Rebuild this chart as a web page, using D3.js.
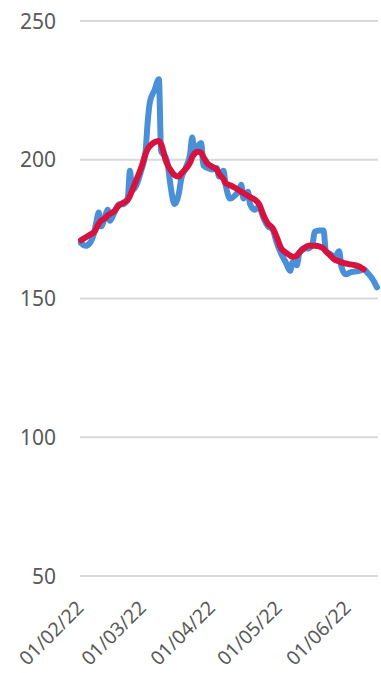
<!DOCTYPE html>
<html><head><meta charset="utf-8">
<script src="https://cdn.jsdelivr.net/npm/d3@7"></script>
<style>html,body{margin:0;padding:0;background:#fff;}svg{display:block;}</style>
</head><body>
<svg id="c" width="381" height="673"></svg>
<script>
const dates = ["2022-02-01","2022-02-03","2022-02-05","2022-02-07","2022-02-08","2022-02-09","2022-02-10","2022-02-12","2022-02-13","2022-02-14","2022-02-16","2022-02-18","2022-02-20","2022-02-22","2022-02-23","2022-02-24","2022-02-26","2022-02-28","2022-03-02","2022-03-03","2022-03-04","2022-03-06","2022-03-08","2022-03-09","2022-03-10","2022-03-11","2022-03-12","2022-03-13","2022-03-15","2022-03-17","2022-03-18","2022-03-20","2022-03-22","2022-03-23","2022-03-24","2022-03-25","2022-03-27","2022-03-28","2022-03-30","2022-04-01","2022-04-03","2022-04-04","2022-04-06","2022-04-07","2022-04-09","2022-04-11","2022-04-13","2022-04-14","2022-04-15","2022-04-17","2022-04-18","2022-04-20","2022-04-22","2022-04-24","2022-04-26","2022-04-28","2022-04-30","2022-05-02","2022-05-04","2022-05-06","2022-05-07","2022-05-09","2022-05-10","2022-05-12","2022-05-14","2022-05-16","2022-05-17","2022-05-19","2022-05-21","2022-05-22","2022-05-24","2022-05-26","2022-05-28","2022-05-29","2022-05-31","2022-06-02","2022-06-04","2022-06-06","2022-06-08","2022-06-10","2022-06-12","2022-06-14"];
const daily = [170,169,170,174,178,181,176,180,182,178,181,184,184,186,196,189,191,196,203,214,221,225,229,203,202,201,198,192,184,188,193,197,202,208,202,204,206,198,197,196.5,197,194,196,191,186,187,189,191,186,188.5,184,182,183,179,176,175,170,166,163,160,163,162,166,168,168,169.5,174,174.5,174.5,167,166,165,167,161.5,158.7,159.4,159.7,160,160.5,159,157,154];
const average = [171,172,173,174,175.5,177,178,179,180,180.5,181.5,183.5,184.5,185.5,187,189,193,197,202,204,205,206.3,206.7,205.6,203,200,198,196.6,194.5,194,195,196.6,199,201,202.3,202.8,202.5,201,198.5,197.5,196.5,195,193,191.5,190.8,190,189,188.5,188,187,186.5,185.7,184,180,177,175.5,172,168,166.5,165.5,165,165.5,166.5,168,169,169,169,168.8,168,167,165.5,164,163.4,163,162.6,162.3,162,161.5,160.5,null,null,null];
const yTicks = [50,100,150,200,250];
const xTickLabels = ["01/02/22","01/03/22","01/04/22","01/05/22","01/06/22"];

const parse = d3.timeParse("%Y-%m-%d");
const tickParse = d3.timeParse("%d/%m/%y");
const data = dates.map((d,i)=>({date:parse(d), v:daily[i], a:average[i]}));

const svg = d3.select("#c");
const x = d3.scaleTime().domain([parse("2022-02-01"), parse("2022-06-14")]).range([81, 377]);
const y = d3.scaleLinear().domain([50,250]).range([576,21]);

const font = "'Noto Sans', sans-serif";
svg.append("g").selectAll("line").data(yTicks).join("line")
  .attr("x1",80).attr("x2",378).attr("y1",d=>y(d)).attr("y2",d=>y(d))
  .attr("stroke","#d9d9d9").attr("stroke-width",2);
svg.append("g").selectAll("text").data(yTicks).join("text")
  .attr("x",56).attr("y",d=>y(d)).attr("dy","0.36em")
  .attr("text-anchor","end").attr("font-family",font).attr("font-size",21)
  .attr("fill","#595959").text(d=>d);
svg.append("g").selectAll("text").data(xTickLabels).join("text")
  .attr("text-anchor","end").attr("font-family",font).attr("font-size",19.5)
  .attr("fill","#595959")
  .attr("transform",d=>`translate(${x(tickParse(d))+4},${609}) rotate(-45)`)
  .text(d=>d);

const blueLine = d3.line().x(d=>x(d.date)).y(d=>y(d.v)).curve(d3.curveMonotoneX);
const redLine = d3.line().defined(d=>d.a!==null).x(d=>x(d.date)).y(d=>y(d.a)).curve(d3.curveCatmullRom);
svg.append("path").datum(data).attr("d",blueLine).attr("fill","none")
  .attr("stroke","#4a90d9").attr("stroke-width",6).attr("stroke-linejoin","round").attr("stroke-linecap","round");
svg.append("path").datum(data).attr("d",redLine).attr("fill","none")
  .attr("stroke","#d6123f").attr("stroke-width",6).attr("stroke-linejoin","round").attr("stroke-linecap","round");
</script>
</body></html>
